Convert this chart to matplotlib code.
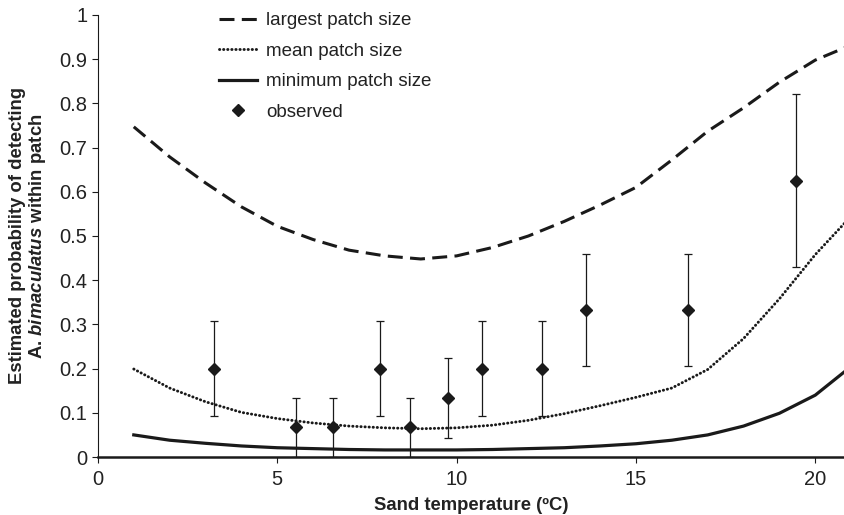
import numpy as np
import matplotlib
matplotlib.use("Agg")
import matplotlib.pyplot as plt

plt.rcParams['font.family'] = ['Liberation Sans', 'DejaVu Sans']
plt.rcParams['mathtext.fontset'] = 'custom'
plt.rcParams['mathtext.bfit'] = 'Liberation Sans:italic:bold'
plt.rcParams['mathtext.rm'] = 'Liberation Sans:bold'

# model curves, sampled at whole degrees
temp = [1, 2, 3, 4, 5, 6, 7, 8, 9, 10, 11, 12, 13, 14, 15, 16, 17, 18, 19, 20, 21]
largest = [0.747, 0.679, 0.62, 0.566, 0.522, 0.492, 0.468, 0.455, 0.448, 0.455, 0.474,
           0.50, 0.533, 0.57, 0.61, 0.672, 0.737, 0.79, 0.848, 0.898, 0.932]
mean = [0.199, 0.156, 0.125, 0.101, 0.087, 0.077, 0.070, 0.066, 0.064, 0.066, 0.072,
        0.083, 0.098, 0.116, 0.135, 0.156, 0.198, 0.268, 0.358, 0.458, 0.545]
minimum = [0.050, 0.038, 0.031, 0.025, 0.021, 0.019, 0.017, 0.016, 0.016, 0.016, 0.017,
           0.019, 0.021, 0.025, 0.030, 0.038, 0.050, 0.070, 0.099, 0.140, 0.205]

# observed detection rates with error bars
obs_t = [3.24, 5.53, 6.56, 7.86, 8.69, 9.76, 10.7, 12.37, 13.6, 16.45, 19.46]
obs_p = [0.2, 0.067, 0.067, 0.2, 0.067, 0.133, 0.2, 0.2, 0.333, 0.333, 0.625]
obs_lo = [0.093, 0.0, 0.0, 0.093, 0.0, 0.044, 0.093, 0.093, 0.207, 0.207, 0.430]
obs_hi = [0.307, 0.133, 0.133, 0.307, 0.133, 0.225, 0.307, 0.307, 0.46, 0.46, 0.821]

ink = '#1a1a1a'
fig = plt.figure(figsize=(8.44, 5.15), dpi=100)
ax = fig.add_axes([0.116, 0.1126, 0.884, 0.8583])

ax.plot(temp, largest, color=ink, lw=2.2, dashes=(4.9, 2.4), label='largest patch size')
ax.plot(temp, mean, color=ink, lw=2.1, dashes=(0.1, 1.3), dash_capstyle='round', label='mean patch size')
ax.plot(temp, minimum, color=ink, lw=2.3, label='minimum patch size')

p = np.array(obs_p)
yerr = [p - np.array(obs_lo), np.array(obs_hi) - p]
ax.errorbar(obs_t, obs_p, yerr=yerr, fmt='none', ecolor=ink, elinewidth=0.9, capsize=3, capthick=0.9)
ax.plot(obs_t, obs_p, 'D', color=ink, ms=6.5, ls='none', label='observed')

ax.set_xlim(0, 20.8)
ax.set_ylim(0, 1)
ax.set_xticks([0, 5, 10, 15, 20])
ax.set_yticks(np.arange(0, 1.01, 0.1))
ax.set_yticklabels(['0', '0.1', '0.2', '0.3', '0.4', '0.5', '0.6', '0.7', '0.8', '0.9', '1'])
ax.spines['top'].set_visible(False)
ax.spines['right'].set_visible(False)
ax.spines['left'].set_linewidth(0.8)
ax.spines['bottom'].set_linewidth(1.8)
ax.spines['left'].set_color(ink)
ax.spines['bottom'].set_color(ink)
ax.tick_params(axis='both', direction='out', length=4, width=0.8, colors=ink, labelsize=14.5, labelcolor='#222222')
ax.tick_params(axis='x', pad=5)

ax.set_xlabel('Sand temperature (ºC)', fontsize=13.3, fontweight='bold', color='#222222', labelpad=6)
ax.set_ylabel('Estimated probability of detecting\n' + r'A. $\mathbfit{bimaculatus}$ within patch',
              fontsize=13.3, fontweight='bold', color='#222222', linespacing=1.1, labelpad=8)

ax.legend(loc='upper left', bbox_to_anchor=(0.14, 1.045), frameon=False, fontsize=13.5,
          handlelength=2.0, handletextpad=0.5, labelspacing=0.72, labelcolor='#222222')

fig.savefig('out.png', dpi=100)
